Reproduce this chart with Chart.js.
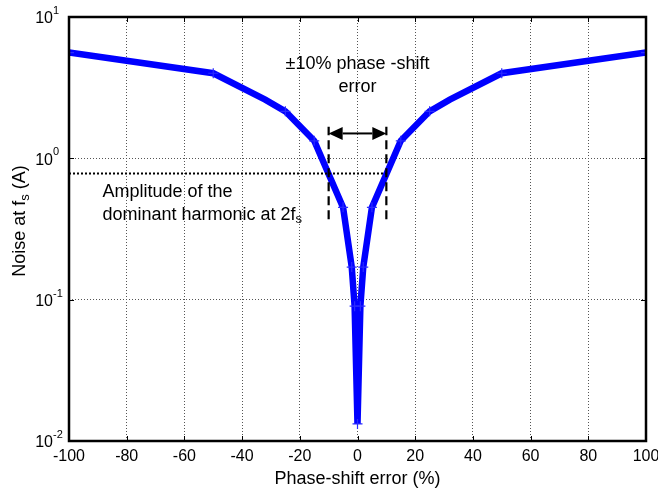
<!DOCTYPE html>
<html>
<head>
<meta charset="utf-8">
<script src="https://cdn.jsdelivr.net/npm/chart.js@4.4.0/dist/chart.umd.min.js"></script>
<style>
    body { margin: 0; background: #fff; }
    #wrap { width: 658px; height: 491px; position: relative; }
</style>
</head>
<body>
<div id="wrap"><canvas id="noiseChart"></canvas></div>
<script>
const FONT = '"Liberation Sans", Arial, Helvetica, sans-serif';

// phase-shift error (%) and noise at fs (A)
const phaseErr = [-100, -50, -32, -25, -15, -5, -2, -1, 0, 1, 2, 5, 15, 25, 32, 50, 100];
const noiseAmp = [5.6, 4.0, 2.6, 2.15, 1.33, 0.45, 0.17, 0.09, 0.0132, 0.09, 0.17, 0.45, 1.33, 2.15, 2.6, 4.0, 5.6];

const xTicks = [-100, -80, -60, -40, -20, 0, 20, 40, 60, 80, 100];
const yTicks = [0.01, 0.1, 1, 10];
const yTickExp = ["-2", "-1", "0", "1"];

// annotation values
const bandEdges = [-10, 10];
const bandRange = [0.37, 1.67];
const arrowLevel = 1.5;
const harmonicLevel = 0.78;
const harmonicSpan = [-100, 10];

function curvePoints() {
    return phaseErr.map((x, i) => ({ x: x, y: noiseAmp[i] }));
}

function drawRich(ctx, parts, x, y) {
    let cx = x;
    parts.forEach(p => {
        ctx.font = `${p.size}px ${FONT}`;
        ctx.fillText(p.t, cx, y + (p.dy || 0));
        cx += ctx.measureText(p.t).width;
    });
}

function richWidth(ctx, parts) {
    return parts.reduce((w, p) => {
        ctx.font = `${p.size}px ${FONT}`;
        return w + ctx.measureText(p.t).width;
    }, 0);
}

const decorPlugin = {
    id: "decor",
    afterDatasetsDraw(chart) {
        const { ctx, chartArea: a, scales } = chart;
        const xs = scales.x, ys = scales.y;
        ctx.save();
        ctx.fillStyle = "#000";
        ctx.strokeStyle = "#000";

        // inner ticks
        ctx.lineWidth = 1;
        ctx.beginPath();
        xTicks.forEach(v => {
            const px = Math.round(xs.getPixelForValue(v)) + 0.5;
            ctx.moveTo(px, a.bottom); ctx.lineTo(px, a.bottom - 5);
            ctx.moveTo(px, a.top); ctx.lineTo(px, a.top + 5);
        });
        yTicks.forEach(v => {
            const py = Math.round(ys.getPixelForValue(v)) + 0.5;
            ctx.moveTo(a.left, py); ctx.lineTo(a.left + 5, py);
            ctx.moveTo(a.right, py); ctx.lineTo(a.right - 5, py);
        });
        ctx.stroke();

        // axes box
        ctx.lineWidth = 2.5;
        ctx.strokeRect(a.left, a.top, a.right - a.left, a.bottom - a.top);

        // y tick labels 10^n
        ctx.textBaseline = "middle";
        ctx.textAlign = "left";
        yTicks.forEach((v, i) => {
            const py = ys.getPixelForValue(v);
            ctx.font = `16px ${FONT}`;
            const w = ctx.measureText("10").width;
            drawRich(ctx, [
                { t: "10", size: 16, dy: 2 },
                { t: yTickExp[i], size: 11, dy: -6 }
            ], a.left - 16 - w, py);
        });

        // y title
        const yTitle = [
            { t: "Noise at f", size: 18 },
            { t: "s", size: 13, dy: 5 },
            { t: " (A)", size: 18 }
        ];
        ctx.save();
        ctx.translate(20, 221);
        ctx.rotate(-Math.PI / 2);
        drawRich(ctx, yTitle, -richWidth(ctx, yTitle) / 2, 0);
        ctx.restore();

        // x title
        ctx.font = `18px ${FONT}`;
        ctx.textAlign = "center";
        ctx.fillText("Phase-shift error (%)", (a.left + a.right) / 2, 479);

        // band annotation text
        const cx = xs.getPixelForValue(0);
        ctx.font = `18px ${FONT}`;
        ctx.fillText("\u00b110% phase -shift", cx, ys.getPixelForValue(4.65));
        ctx.fillText("error", cx, ys.getPixelForValue(3.2));

        // harmonic annotation text
        ctx.textAlign = "left";
        const lx = xs.getPixelForValue(-88.4);
        ctx.fillText("Amplitude of the", lx, ys.getPixelForValue(0.578));
        drawRich(ctx, [
            { t: "dominant harmonic at 2f", size: 18 },
            { t: "s", size: 13, dy: 5 }
        ], lx, ys.getPixelForValue(0.398));

        // double arrow
        const ay = ys.getPixelForValue(arrowLevel);
        const x1 = xs.getPixelForValue(bandEdges[0]);
        const x2 = xs.getPixelForValue(bandEdges[1]);
        const head = 14, half = 6.5;
        ctx.lineWidth = 2;
        ctx.beginPath();
        ctx.moveTo(x1 + head, ay); ctx.lineTo(x2 - head, ay);
        ctx.stroke();
        ctx.beginPath();
        ctx.moveTo(x1, ay); ctx.lineTo(x1 + head, ay - half); ctx.lineTo(x1 + head, ay + half); ctx.closePath();
        ctx.moveTo(x2, ay); ctx.lineTo(x2 - head, ay - half); ctx.lineTo(x2 - head, ay + half); ctx.closePath();
        ctx.fill();

        ctx.restore();
    }
};

new Chart(document.getElementById("noiseChart"), {
    type: "line",
    data: {
        datasets: [
            {
                label: "band low",
                data: [{ x: bandEdges[0], y: bandRange[0] }, { x: bandEdges[0], y: bandRange[1] }],
                borderColor: "#000", borderWidth: 2.2, borderDash: [9, 5], pointRadius: 0
            },
            {
                label: "band high",
                data: [{ x: bandEdges[1], y: bandRange[0] }, { x: bandEdges[1], y: bandRange[1] }],
                borderColor: "#000", borderWidth: 2.2, borderDash: [9, 5], pointRadius: 0
            },
            {
                label: "harmonic",
                data: [{ x: harmonicSpan[0], y: harmonicLevel }, { x: harmonicSpan[1], y: harmonicLevel }],
                borderColor: "#000", borderWidth: 2, borderDash: [2, 2], pointRadius: 0
            },
            {
                label: "noise",
                data: curvePoints(),
                borderColor: "#0000ff",
                backgroundColor: "#0000ff",
                borderWidth: 6.5,
                pointStyle: "cross",
                pointRadius: ctx => Math.abs(phaseErr[ctx.dataIndex]) === 32 ? 0 : 5,
                pointBorderWidth: 1.2,
                pointBorderColor: "#2a2aff",
                tension: 0
            }
        ]
    },
    options: {
        responsive: true,
        maintainAspectRatio: false,
        animation: false,
        layout: { padding: { left: 0, right: 12, top: 17, bottom: 0 } },
        plugins: { legend: { display: false }, tooltip: { enabled: false } },
        scales: {
            x: {
                type: "linear",
                min: -100,
                max: 100,
                afterBuildTicks: scale => { scale.ticks = xTicks.map(v => ({ value: v })); },
                afterFit: scale => {
                    scale.height = 50;
                    scale.paddingLeft = 0;
                    scale.paddingRight = 0;
                },
                ticks: {
                    color: "#000",
                    font: { family: FONT, size: 16 },
                    padding: 6,
                    maxRotation: 0,
                    callback: v => String(v)
                },
                grid: { color: "#555", lineWidth: 1, drawTicks: false },
                border: { display: false, dash: [1, 2] }
            },
            y: {
                type: "logarithmic",
                min: 0.01,
                max: 10,
                afterBuildTicks: scale => { scale.ticks = yTicks.map(v => ({ value: v })); },
                afterFit: scale => { scale.width = 69; },
                ticks: { display: false },
                grid: { color: "#555", lineWidth: 1, drawTicks: false },
                border: { display: false, dash: [1, 2] }
            }
        }
    },
    plugins: [decorPlugin]
});
</script>
</body>
</html>
